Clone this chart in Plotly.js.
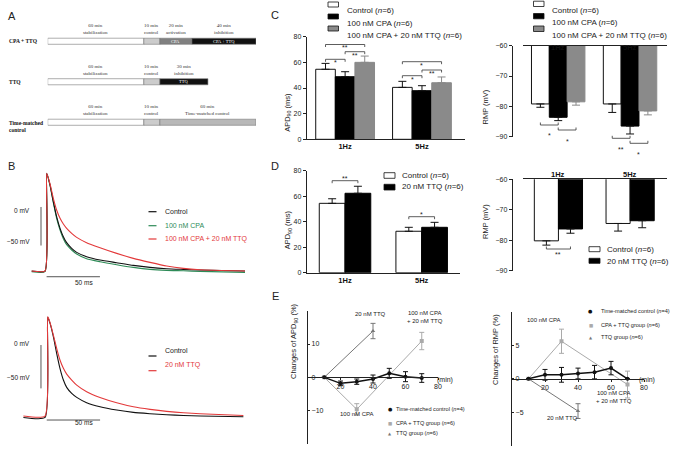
<!DOCTYPE html>
<html>
<head>
<meta charset="utf-8">
<script src="https://cdn.plot.ly/plotly-3.0.1.min.js"></script>
<style>
  html, body { margin: 0; padding: 0; background: #fff; }
  #fig { width: 678px; height: 449px; }
</style>
</head>
<body>
<div id="fig"></div>
<script>
// Figure size in pixels
const W = 678;
const H = 449;
const SansFont = 'Liberation Sans, Arial, sans-serif';
const SerifFont = 'Liberation Serif, Times New Roman, serif';

// ---------- Data ----------

// Panel A: protocol timelines (min)
const protocolRowPos = [2, 1, 0];
const protocolNames = ['<b>CPA + TTQ</b>', '<b>TTQ</b>', '<b>Time-matched<br>control</b>'];
const cpaTtqMinutes = [60, 10, 20, 40];
const ttqMinutes = [60, 10, 30];
const timeMatchedMinutes = [60, 10, 60];
const cpaTtqLabels = ['60 min<br>stabilization', '10 min<br>control', '20 min<br>activation', '40 min<br>inhibition'];
const ttqLabels = ['60 min<br>stabilization', '10 min<br>control', '30 min<br>inhibition'];
const timeMatchedLabels = ['60 min<br>stabilization', '10 min<br>control', '60 min<br>Time-matched control'];
const cpaTtqInside = ['', '', 'CPA', 'CPA + TTQ'];
const ttqInside = ['', '', 'TTQ'];
const timeMatchedInside = ['', '', ''];

// Panel B: action potential traces (ms, mV)
const timeB1 = [-12.5, 0, 1.6, 4.7, 7.8, 10.9, 14.1, 17.2, 20.3, 25, 29.7, 39, 51.6, 67.2, 82.8, 98.4, 114, 129.7, 145.3, 187.5];
const controlB1 = [-83.1, -83.1, 43.7, 28.6, 6.9, -12.6, -27.7, -38.5, -46.3, -53.7, -58.9, -64.5, -68.8, -72.3, -75.8, -78.4, -80.1, -81.0, -81.8, -83.1];
const cpaB1 = [-84.0, -84.0, 42.9, 27.7, 5.6, -14.7, -29.9, -41.1, -48.9, -55.8, -61.0, -67.1, -71.0, -74.9, -78.4, -81.0, -82.3, -82.8, -83.5, -84.8];
const cpaTtqB1 = [-83.1, -83.1, 43.7, 29.9, 11.3, -3.9, -14.7, -22.1, -27.7, -34.2, -39.4, -46.3, -52.8, -60.2, -66.7, -71.9, -76.6, -79.7, -81.4, -83.1];

const timeB2 = [-20.9, -0.6, 1.9, 4.1, 7.2, 10.3, 13.4, 16.6, 19.7, 24.4, 29.1, 38.4, 50.9, 66.6, 82.2, 97.8, 113.4, 129.1, 144.7, 185.3];
const controlB2 = [-83.5, -83.5, 31.9, 25.0, 9.6, -9.6, -26.9, -40.4, -48.8, -55.8, -60.4, -66.5, -71.2, -75.0, -77.7, -79.2, -80.4, -81.2, -81.9, -82.7];
const ttqB2 = [-81.9, -81.9, 32.7, 25.8, 11.5, -3.8, -17.3, -26.9, -33.5, -40.4, -46.2, -53.8, -60.4, -66.5, -71.2, -74.2, -76.5, -78.1, -79.2, -81.2];

// Panels C and D: frequencies
const freqPos = [0, 1];
const freqLabels = ['<b>1Hz</b>', '<b>5Hz</b>'];

// Panel C: APD90 (ms)
const apdControlC = [54.6, 40.5];
const apdControlCErr = [4.6, 4.7];
const apdCpaC = [48.8, 37.9];
const apdCpaCErr = [3.9, 3.9];
const apdCpaTtqC = [60.0, 44.1];
const apdCpaTtqCErr = [4.9, 4.5];

// Panel C: RMP (mV)
const rmpControlC = [-79.2, -79.2];
const rmpControlCErr = [1.1, 2.8];
const rmpCpaC = [-83.6, -86.5];
const rmpCpaCErr = [1.1, 2.6];
const rmpCpaTtqC = [-78.5, -81.5];
const rmpCpaTtqCErr = [1.1, 1.3];

// Panel D: APD90 (ms)
const apdControlD = [54.4, 32.5];
const apdControlDErr = [3.6, 3.1];
const apdTtqD = [62.3, 35.6];
const apdTtqDErr = [5.5, 3.9];

// Panel D: RMP (mV)
const rmpControlD = [-80.2, -74.5];
const rmpControlDErr = [1.4, 2.5];
const rmpTtqD = [-76.3, -73.6];
const rmpTtqDErr = [1.4, 2.3];

// Panel E: time courses (min, % change)
const timeMatchedTime = [10, 20, 30, 40, 50, 60, 70];
const apdTimeMatched = [0, -1.8, -1.3, -0.5, 1.2, 0.2, -0.2];
const apdTimeMatchedErr = [0, 0.7, 0.8, 1.2, 1.5, 1.5, 1.3];
const cpaTtqGroupTime = [10, 30, 70];
const apdCpaTtqGroup = [0, -9.6, 10.9];
const apdCpaTtqGroupErr = [0, 1.7, 2.6];
const ttqGroupTime = [10, 40];
const apdTtqGroup = [0, 13.9];
const apdTtqGroupErr = [0, 2.3];

const rmpTimeMatched = [0, 0.6, 0.6, 0.8, 1.0, 1.6, 0];
const rmpTimeMatchedErr = [0, 0.8, 1.1, 0.8, 1.0, 1.0, 0];
const rmpCpaTtqGroup = [0, 5.6, -0.85];
const rmpCpaTtqGroupErr = [0, 1.8, 2.0];
const rmpTtqGroup = [0, -4.8];
const rmpTtqGroupErr = [0, 1.1];

// ---------- Helpers ----------

// Pixel to paper coordinates
const X = p => p / W;
const Y = p => 1 - p / H;
const xd = (a, b) => [a / W, b / W];
const yd = (top, bottom) => [1 - bottom / H, 1 - top / H];

var traces = [];
var shapes = [];
var annotations = [];

function text(x, y, str, size, opts) {
    annotations.push(Object.assign({
        xref: 'paper', yref: 'paper', x: X(x), y: Y(y), text: str,
        showarrow: false, font: { size: size, family: SansFont, color: '#222' }
    }, opts || {}));
}

function box(x0, y0, x1, y1, fill) {
    shapes.push({
        type: 'rect', xref: 'paper', yref: 'paper',
        x0: X(x0), x1: X(x1), y0: Y(y0), y1: Y(y1),
        fillcolor: fill, line: { color: '#111', width: 0.8 }
    });
}

function legendLine(x0, x1, y, color) {
    shapes.push({
        type: 'line', xref: 'paper', yref: 'paper',
        x0: X(x0), x1: X(x1), y0: Y(y), y1: Y(y),
        line: { color: color, width: 1.2 }
    });
}

// Significance bracket; down = ticks pointing down
function bracket(xa, x0, x1, yPix, down, stars) {
    const tick = down ? 2.5 : -2.5;
    shapes.push({
        type: 'path', xref: xa, yref: 'paper',
        path: 'M' + x0 + ',' + Y(yPix + tick) + ' L' + x0 + ',' + Y(yPix) +
              ' L' + x1 + ',' + Y(yPix) + ' L' + x1 + ',' + Y(yPix + tick),
        line: { color: '#333', width: 0.8 }
    });
    annotations.push({
        xref: xa, yref: 'paper', x: (x0 + x1) / 2, y: Y(down ? yPix - 2 : yPix + 5.5),
        text: stars, showarrow: false, font: { size: 7, family: SansFont, color: '#222' }
    });
}

// Category labels drawn above a top axis
function topLabels(xa, yPix) {
    freqPos.forEach((p, i) => {
        annotations.push({
            xref: xa, yref: 'paper', x: p, y: Y(yPix), text: freqLabels[i],
            showarrow: false, font: { size: 7.5, family: SansFont, color: '#111' }
        });
    });
}

function barTrace(xa, ya, vals, errs, width, slot, color, errColor, negative) {
    const zeros = errs.map(() => 0);
    traces.push({
        type: 'bar', xaxis: xa, yaxis: ya, x: freqPos, y: vals,
        width: width, offset: slot * width - width / 2,
        marker: { color: color, line: { color: color === '#ffffff' ? '#111' : color, width: 1 } },
        error_y: {
            type: 'data', symmetric: false,
            array: negative ? zeros : errs, arrayminus: negative ? errs : zeros,
            color: errColor, thickness: 1, width: 4
        },
        hoverinfo: 'skip'
    });
}

function timeTrace(xa, ya, t, vals, errs, color, symbol, lineWidth) {
    traces.push({
        type: 'scatter', mode: 'lines+markers', xaxis: xa, yaxis: ya, x: t, y: vals,
        line: { color: color, width: lineWidth },
        marker: { color: color, symbol: symbol, size: 4 },
        error_y: { type: 'data', array: errs, color: color, thickness: 1, width: 2.5 },
        hoverinfo: 'skip'
    });
}

// ---------- Panel A ----------
function protocolRow(row, minutes, colors, labels, inside, name) {
    var base = [];
    var t = 0;
    minutes.forEach(m => { base.push(t); t += m; });
    traces.push({
        type: 'bar', orientation: 'h', xaxis: 'x', yaxis: 'y',
        y: minutes.map(() => row), x: minutes, base: base,
        width: 0.15, offset: -0.075,
        marker: { color: colors, line: { color: '#777', width: 0.6 } },
        hoverinfo: 'skip'
    });
    minutes.forEach((m, i) => {
        annotations.push({
            xref: 'x', yref: 'y', x: base[i] + m / 2, y: row, yshift: 4, yanchor: 'bottom',
            text: labels[i], showarrow: false,
            font: { size: 5, family: SerifFont, color: '#333' }
        });
        if (inside[i]) {
            annotations.push({
                xref: 'x', yref: 'y', x: base[i] + m / 2, y: row,
                text: inside[i], showarrow: false,
                font: { size: 4.5, family: SerifFont, color: '#fff' }
            });
        }
    });
    annotations.push({
        xref: 'paper', yref: 'y', x: X(7), y: row, xanchor: 'left', align: 'left',
        yanchor: row === 0 ? 'top' : 'middle', yshift: row === 0 ? 4 : 0,
        text: name, showarrow: false,
        font: { size: 5.5, family: SerifFont, color: '#111' }
    });
}

protocolRow(protocolRowPos[0], cpaTtqMinutes, ['#ffffff', '#cccccc', '#808080', '#111111'], cpaTtqLabels, cpaTtqInside, protocolNames[0]);
protocolRow(protocolRowPos[1], ttqMinutes, ['#ffffff', '#cccccc', '#111111'], ttqLabels, ttqInside, protocolNames[1]);
protocolRow(protocolRowPos[2], timeMatchedMinutes, ['#ffffff', '#cccccc', '#b8b8b8'], timeMatchedLabels, timeMatchedInside, protocolNames[2]);

// ---------- Panel B ----------
function apTrace(xa, ya, t, v, color) {
    traces.push({
        type: 'scatter', mode: 'lines', xaxis: xa, yaxis: ya, x: t, y: v,
        line: { color: color, width: 1.1, shape: 'spline', smoothing: 0.5 },
        hoverinfo: 'skip'
    });
}
apTrace('x2', 'y2', timeB1, cpaB1, '#2e8b57');
apTrace('x2', 'y2', timeB1, controlB1, '#111111');
apTrace('x2', 'y2', timeB1, cpaTtqB1, '#e3393a');
apTrace('x3', 'y3', timeB2, controlB2, '#111111');
apTrace('x3', 'y3', timeB2, ttqB2, '#e3393a');

// Scale bars
shapes.push({ type: 'line', xref: 'x2', yref: 'y2', x0: -3.75, x1: -3.75, y0: 0, y1: -50, line: { color: '#555', width: 1 } });
shapes.push({ type: 'line', xref: 'x2', yref: 'y2', x0: 1.5, x1: 51.5, y0: -90.5, y1: -90.5, line: { color: '#555', width: 1 } });
shapes.push({ type: 'line', xref: 'x3', yref: 'y3', x0: -4.4, x1: -4.4, y0: 0, y1: -50, line: { color: '#555', width: 1 } });
shapes.push({ type: 'line', xref: 'x3', yref: 'y3', x0: 1, x1: 51, y0: -86.5, y1: -86.5, line: { color: '#555', width: 1 } });
text(32, 210, '0 mV', 6.5, { xanchor: 'right' });
text(32, 241, '\u221250 mV', 6.5, { xanchor: 'right' });
text(73, 282, '50 ms', 6.5);
text(32, 349, '0 mV', 6.5, { xanchor: 'right' });
text(32, 383, '\u221250 mV', 6.5, { xanchor: 'right' });
text(73, 428, '50 ms', 6.5);

// Legends B
legendLine(148.5, 156.5, 211.7, '#111111');
legendLine(148.5, 156.5, 225.7, '#2e8b57');
legendLine(148.5, 156.5, 239, '#e3393a');
text(163, 211.7, 'Control', 7, { xanchor: 'left' });
text(163, 225.7, '100 nM CPA', 7, { xanchor: 'left', font: { size: 7, family: SansFont, color: '#2e8b57' } });
text(163, 239, '100 nM CPA + 20 nM TTQ', 7, { xanchor: 'left', font: { size: 7, family: SansFont, color: '#e3393a' } });
legendLine(148.5, 156.5, 356, '#111111');
legendLine(148.5, 156.5, 370.7, '#e3393a');
text(163, 356, 'Control', 7, { xanchor: 'left' });
text(163, 370.7, '20 nM TTQ', 7, { xanchor: 'left', font: { size: 7, family: SansFont, color: '#e3393a' } });

// ---------- Panel C ----------
const cBarW = 0.255;
barTrace('x4', 'y4', apdControlC, apdControlCErr, cBarW, -1, '#ffffff', '#111', false);
barTrace('x4', 'y4', apdCpaC, apdCpaCErr, cBarW, 0, '#000000', '#111', false);
barTrace('x4', 'y4', apdCpaTtqC, apdCpaTtqCErr, cBarW, 1, '#8a8a8a', '#8a8a8a', false);
bracket('x4', -cBarW, cBarW, 44.5, true, '**');
bracket('x4', 0, cBarW, 51.7, true, '**');
bracket('x4', -cBarW, 0, 59.3, true, '*');
bracket('x4', 1 - cBarW, 1 + cBarW, 61.7, true, '*');
bracket('x4', 1, 1 + cBarW, 70, true, '**');
bracket('x4', 1 - cBarW, 1, 75.7, true, '*');

const cRmpW = 0.248;
barTrace('x5', 'y5', rmpControlC, rmpControlCErr, cRmpW, -1, '#ffffff', '#111', true);
barTrace('x5', 'y5', rmpCpaC, rmpCpaCErr, cRmpW, 0, '#000000', '#111', true);
barTrace('x5', 'y5', rmpCpaTtqC, rmpCpaTtqCErr, cRmpW, 1, '#8a8a8a', '#8a8a8a', true);
bracket('x5', -cRmpW, 0, 125, false, '*');
bracket('x5', 0, cRmpW, 130, false, '*');
bracket('x5', 1 - cRmpW, 1, 138.3, false, '**');
bracket('x5', 1, 1 + cRmpW, 143.3, false, '*');
topLabels('x5', 40.7);

// Legends C
box(328, 2, 338.5, 7, '#ffffff');
box(328, 14, 338.5, 19, '#000000');
box(328, 26, 338.5, 31, '#8a8a8a');
text(345, 4.3, 'Control (<i>n</i>=6)', 8, { xanchor: 'left' });
text(345, 16.5, '100 nM CPA (<i>n</i>=6)', 8, { xanchor: 'left' });
text(345, 28.5, '100 nM CPA + 20 nM TTQ (<i>n</i>=6)', 8, { xanchor: 'left' });
box(533.5, 1.2, 544, 6.5, '#ffffff');
box(533.5, 13.5, 544, 18.8, '#000000');
box(533.5, 26, 544, 31.5, '#8a8a8a');
text(550, 4, 'Control (<i>n</i>=6)', 8, { xanchor: 'left' });
text(550, 16.2, '100 nM CPA (<i>n</i>=6)', 8, { xanchor: 'left' });
text(550, 28.7, '100 nM CPA + 20 nM TTQ (<i>n</i>=6)', 8, { xanchor: 'left' });

// ---------- Panel D ----------
const dBarW = 0.336;
barTrace('x6', 'y6', apdControlD, apdControlDErr, dBarW, -0.5, '#ffffff', '#111', false);
barTrace('x6', 'y6', apdTtqD, apdTtqDErr, dBarW, 0.5, '#000000', '#111', false);
bracket('x6', -dBarW / 2, dBarW / 2, 180.7, true, '**');
bracket('x6', 1 - dBarW / 2, 1 + dBarW / 2, 216.7, true, '*');

barTrace('x7', 'y7', rmpControlD, rmpControlDErr, dBarW, -0.5, '#ffffff', '#111', true);
barTrace('x7', 'y7', rmpTtqD, rmpTtqDErr, dBarW, 0.5, '#000000', '#111', true);
bracket('x7', -dBarW / 2, dBarW / 2, 249, false, '**');
topLabels('x7', 174.5);

box(384, 172.7, 395, 178.3, '#ffffff');
box(384, 184.3, 395, 190, '#000000');
text(400, 175.5, 'Control (<i>n</i>=6)', 8, { xanchor: 'left' });
text(400, 187, '20 nM TTQ (<i>n</i>=6)', 8, { xanchor: 'left' });
box(589, 246.7, 600, 251.7, '#ffffff');
box(589, 258.3, 600, 263.3, '#000000');
text(605, 249, 'Control (<i>n</i>=6)', 8, { xanchor: 'left' });
text(605, 261, '20 nM TTQ (<i>n</i>=6)', 8, { xanchor: 'left' });

// ---------- Panel E ----------
timeTrace('x8', 'y8', ttqGroupTime, apdTtqGroup, apdTtqGroupErr, '#777777', 'triangle-up', 1);
timeTrace('x8', 'y8', cpaTtqGroupTime, apdCpaTtqGroup, apdCpaTtqGroupErr, '#aaaaaa', 'square', 1);
timeTrace('x8', 'y8', timeMatchedTime, apdTimeMatched, apdTimeMatchedErr, '#111111', 'circle', 1.5);
timeTrace('x9', 'y9', ttqGroupTime, rmpTtqGroup, rmpTtqGroupErr, '#777777', 'triangle-up', 1);
timeTrace('x9', 'y9', cpaTtqGroupTime, rmpCpaTtqGroup, rmpCpaTtqGroupErr, '#aaaaaa', 'square', 1);
timeTrace('x9', 'y9', timeMatchedTime, rmpTimeMatched, rmpTimeMatchedErr, '#111111', 'circle', 1.5);

text(370, 319.3, '20 nM TTQ', 6);
text(425, 326, '100 nM CPA<br>+ 20 nM TTQ', 6);
text(357, 419.3, '100 nM CPA', 6);
text(455.5, 385.7, '(min)', 7);
text(563, 325, '100 nM CPA', 6);
text(634, 405.5, '100 nM CPA<br>+ 20 nM TTQ', 6);
text(580, 422.7, '20 nM TTQ', 6);
text(657, 385.7, '(min)', 7);

// Legends E
function markerLegend(x, y, rows) {
    const marks = [['\u25CF', '#111', 5], ['\u25A0', '#aaa', 4.5], ['\u25B2', '#777', 4]];
    rows.forEach((label, i) => {
        text(x, y[i], marks[i][0], marks[i][2], { font: { size: marks[i][2], family: 'DejaVu Sans', color: marks[i][1] } });
        text(x + 4, y[i], label, 5.6, { xanchor: 'left' });
    });
}
const eLegendRows = ['Time-matched control (<i>n</i>=4)', 'CPA + TTQ group (<i>n</i>=6)', 'TTQ group (<i>n</i>=6)'];
markerLegend(390, [414.3, 427.7, 438.3], eLegendRows);
markerLegend(595, [316, 330, 342.3], eLegendRows);

// ---------- Axis titles and panel letters ----------
text(288.3, 91, 'APD<sub>90</sub> (ms)', 7.5, { textangle: -90 });
text(491.5, 88, 'RMP (mV)', 7.5, { textangle: -90 });
text(288.3, 230, 'APD<sub>90</sub> (ms)', 7.5, { textangle: -90 });
text(491.5, 222, 'RMP (mV)', 7.5, { textangle: -90 });
text(294, 381, 'Changes of APD<sub>90</sub> (%)', 7.5, { textangle: -90 });
text(502, 387, 'Changes of RMP (%)', 7.5, { textangle: -90 });

text(6, 7.5, 'A', 11);
text(6, 166, 'B', 11);
text(275, 7, 'C', 11);
text(275, 166, 'D', 11);
text(275, 304, 'E', 11);

// ---------- Layout ----------
const axisBase = {
    showgrid: false, zeroline: false, fixedrange: true,
    linecolor: '#222', linewidth: 1, tickcolor: '#222', tickwidth: 1,
    tickfont: { size: 7, family: SansFont, color: '#222' }
};
const hidden = { visible: false, fixedrange: true };
const catTicks = { tickvals: freqPos, ticktext: freqLabels, ticks: '', tickfont: { size: 7.5, family: SansFont, color: '#111' } };

var layout = {
    width: W, height: H,
    margin: { l: 0, r: 0, t: 0, b: 0 },
    paper_bgcolor: '#ffffff', plot_bgcolor: 'rgba(0,0,0,0)',
    showlegend: false,
    font: { family: SansFont },

    xaxis: Object.assign({}, hidden, { domain: xd(47.7, 256), range: [0, 130], anchor: 'y' }),
    yaxis: Object.assign({}, hidden, { domain: yd(21, 142.5), range: [-0.5, 2.5], anchor: 'x' }),

    xaxis2: Object.assign({}, hidden, { domain: xd(29, 247.7), range: [-15, 190], anchor: 'y2' }),
    yaxis2: Object.assign({}, hidden, { domain: yd(164.6, 280.2), range: [-95, 55], anchor: 'x2' }),
    xaxis3: Object.assign({}, hidden, { domain: xd(22.2, 248.4), range: [-22, 190], anchor: 'y3' }),
    yaxis3: Object.assign({}, hidden, { domain: yd(306, 427.4), range: [-95, 45], anchor: 'x3' }),

    xaxis4: Object.assign({}, axisBase, catTicks, { domain: xd(306.7, 465), range: [-0.5, 1.56], anchor: 'y4', showline: true }),
    yaxis4: Object.assign({}, axisBase, { domain: yd(36.7, 139.3), range: [0, 80], anchor: 'x4', showline: true, ticks: 'outside', ticklen: 3, tickvals: [0, 20, 40, 60, 80] }),

    xaxis5: Object.assign({}, axisBase, { domain: xd(523, 666.7), range: [-0.49, 1.51], anchor: 'y5', side: 'top', showline: true, ticks: '', showticklabels: false }),
    yaxis5: Object.assign({}, axisBase, { domain: yd(45.7, 136.7), range: [-90, -60], anchor: 'free', position: X(511.7), showline: true, ticks: 'outside', ticklen: 3, tickvals: [-90, -80, -70, -60] }),

    xaxis6: Object.assign({}, axisBase, catTicks, { domain: xd(306.7, 460), range: [-0.5, 1.5], anchor: 'y6', showline: true }),
    yaxis6: Object.assign({}, axisBase, { domain: yd(170.7, 272.7), range: [0, 80], anchor: 'x6', showline: true, ticks: 'outside', ticklen: 3, tickvals: [0, 20, 40, 60, 80] }),

    xaxis7: Object.assign({}, axisBase, { domain: xd(523.3, 666.7), range: [-0.49, 1.51], anchor: 'y7', side: 'top', showline: true, ticks: '', showticklabels: false }),
    yaxis7: Object.assign({}, axisBase, { domain: yd(179.3, 270.7), range: [-90, -60], anchor: 'free', position: X(511.7), showline: true, ticks: 'outside', ticklen: 3, tickvals: [-90, -80, -70, -60] }),

    xaxis8: Object.assign({}, axisBase, { domain: xd(308, 438), range: [0, 80], anchor: 'free', position: Y(377.3), showline: true, ticks: 'outside', ticklen: 2, tickvals: [20, 40, 60, 80] }),
    yaxis8: Object.assign({}, axisBase, { domain: yd(310.7, 444), range: [-20, 20], anchor: 'x8', showline: true, ticks: 'inside', ticklabelposition: 'inside', ticklen: 2, tickvals: [-20, -10, 0, 10, 20] }),

    xaxis9: Object.assign({}, axisBase, { domain: xd(512, 644), range: [0, 80], anchor: 'free', position: Y(378.9), showline: true, ticks: 'outside', ticklen: 2, tickvals: [20, 40, 60, 80] }),
    yaxis9: Object.assign({}, axisBase, { domain: yd(311.7, 446), range: [-10, 10], anchor: 'x9', showline: true, ticks: 'inside', ticklabelposition: 'inside', ticklen: 2, tickvals: [-10, -5, 0, 5, 10] }),

    shapes: shapes,
    annotations: annotations
};

Plotly.newPlot('fig', traces, layout, { displayModeBar: false, staticPlot: true });
</script>
</body>
</html>
